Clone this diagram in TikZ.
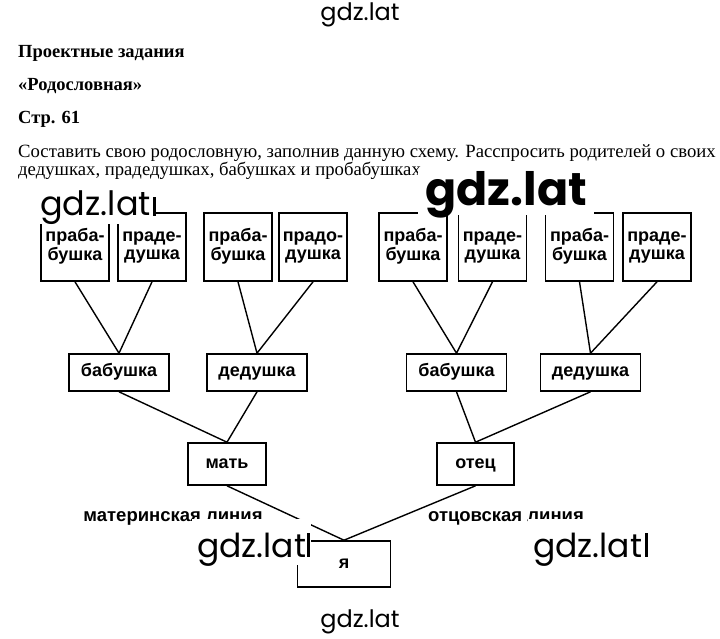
\documentclass[tikz,border=0pt]{standalone}
\usepackage{fontspec}
\setmainfont{Liberation Serif}
\newfontfamily\boxfont{Liberation Sans}
\newfontfamily\wmfont{Poppins}

\begin{document}
\begin{tikzpicture}[x=1pt,y=-1pt,
	box/.style={draw,line width=1.6pt,inner sep=0pt,align=center,
		font=\boxfont\bfseries\fontsize{18}{18}\selectfont},
	topbox/.style={box,minimum width=68pt,minimum height=68pt},
	onebox/.style={box,text height=13pt,text depth=4.5pt},
	midbox/.style={onebox,minimum width=100pt,minimum height=37pt},
	link/.style={line width=1.4pt},
	heading/.style={inner sep=0pt,anchor=base west,font=\bfseries\fontsize{18.5}{20}\selectfont},
	plain/.style={inner sep=0pt,anchor=base west,font=\fontsize{18.7}{20}\selectfont},
	wmark/.style={inner sep=0pt,anchor=base west,font=\wmfont\fontsize{33}{33}\selectfont},
	wmback/.style={fill=white,draw=none}]
	\useasboundingbox (0,0) rectangle (720,638);
	
	\node[heading] (head1) at (18,57) {Проектные задания};
	\node[heading] (head2) at (18,90) {«Родословная»};
	\node[heading] (head3) at (18,123) {Стр. 61};
	\node[plain] (task1) at (18,157) {Составить свою родословную, заполнив данную схему. Расспросить родителей о своих};
	\node[plain] (task2) at (18,175) {дедушках, прадедушках, бабушках и пробабушках};
	
	\node[topbox] (pb1) at (75,247) {\strut праба-\\\strut бушка};
	\node[topbox] (pd1) at (152,247) {\strut праде-\\\strut душка};
	\node[topbox] (pb2) at (238,247) {\strut праба-\\\strut бушка};
	\node[topbox] (pd2) at (313,247) {\strut прадо-\\\strut душка};
	\node[topbox] (pb3) at (413,247) {\strut праба-\\\strut бушка};
	\node[topbox] (pd3) at (492.5,247) {\strut праде-\\\strut душка};
	\node[topbox] (pb4) at (579.5,247) {\strut праба-\\\strut бушка};
	\node[topbox] (pd4) at (657,247) {\strut праде-\\\strut душка};
	
	\node[midbox] (bab1) at (119,372.5) {бабушка};
	\node[midbox] (ded1) at (257,372.5) {дедушка};
	\node[midbox] (bab2) at (456.5,372.5) {бабушка};
	\node[midbox] (ded2) at (590.5,372.5) {дедушка};
	
	\node[onebox,minimum width=78pt,minimum height=42pt] (mat) at (227,464) {мать};
	\node[onebox,minimum width=77pt,minimum height=42pt] (otec) at (475.5,464) {отец};
	\node[onebox,minimum width=93pt,minimum height=46pt] (ya) at (344,564) {я};
	
	\draw[link] (pb1.south) -- (bab1.north) -- (pd1.south);
	\draw[link] (pb2.south) -- (ded1.north) -- (pd2.south);
	\draw[link] (pb3.south) -- (bab2.north) -- (pd3.south);
	\draw[link] (pb4.south) -- (ded2.north) -- (pd4.south);
	\draw[link] (bab1.south) -- (mat.north) -- (ded1.south);
	\draw[link] (bab2.south) -- (otec.north) -- (ded2.south);
	\draw[link] (mat.south) -- (ya.north) -- (otec.south);
	
	\node[font=\boxfont\bfseries\fontsize{18.5}{18}\selectfont] (mline) at (173,518) {материнская линия};
	\node[font=\boxfont\bfseries\fontsize{18.5}{18}\selectfont] (oline) at (506,518) {отцовская линия};
	
	% watermarks
	\node[inner sep=0pt,font=\wmfont\fontsize{24}{24}\selectfont] (wmtop) at (360,15) {gdz.lat};
	\fill[wmback] (418,170) rectangle (594,215);
	\node[wmark,font=\wmfont\bfseries\fontsize{46}{46}\selectfont] (wmmid) at (425,205) {gdz.lat};
	\fill[wmback] (37,190) rectangle (156,224);
	\node[wmark,font=\wmfont\fontsize{33.5}{34}\selectfont] (wmleft) at (40,215) {gdz.lat};
	\fill (153,197) rectangle (155.5,216);
	\fill[wmback] (192,519) rectangle (311,565);
	\node[wmark] (wmya) at (197,557) {gdz.lat};
	\fill (307,533) rectangle (310,557);
	\fill[wmback] (528,519) rectangle (648,565);
	\node[wmark] (wmright) at (533,557) {gdz.lat};
	\fill (645,533) rectangle (647.5,557);
	\node[inner sep=0pt,font=\wmfont\fontsize{24}{24}\selectfont] (wmbot) at (360,622) {gdz.lat};
\end{tikzpicture}
\end{document}
